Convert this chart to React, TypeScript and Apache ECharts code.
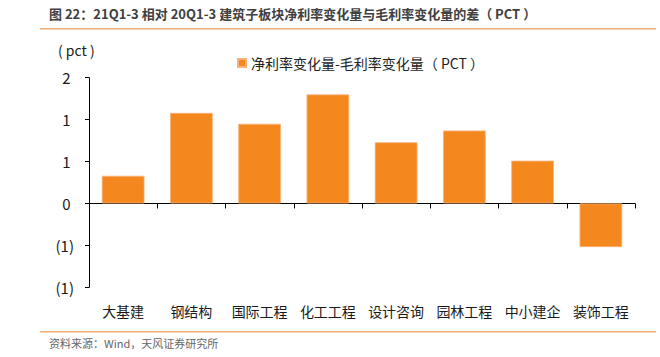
import React, { useEffect, useRef } from "react";
import * as echarts from "echarts";

const categories = ["大基建", "钢结构", "国际工程", "化工工程", "设计咨询", "园林工程", "中小建企", "装饰工程"];
const values = [0.33, 1.08, 0.95, 1.3, 0.73, 0.87, 0.51, -0.52];
const seriesName = "净利率变化量-毛利率变化量（ PCT ）";
const titleText = "图 22：21Q1-3 相对 20Q1-3 建筑子板块净利率变化量与毛利率变化量的差（ PCT ）";
const sourceText = "资料来源：Wind，天风证券研究所";
const unitText = "( pct )";

const FONT = "'Noto Sans CJK SC', 'Noto Sans', sans-serif";

export default function App() {
  const ref = useRef<HTMLDivElement>(null);
  useEffect(() => {
    if (!ref.current) return;
    const chart = echarts.init(ref.current, null, { renderer: "svg" });
    const fmt = (v: number) => {
      const r = Math.round(Math.abs(v) + 1e-9);
      return v < -1e-9 ? `(${r})` : `${r} `;
    };
    chart.setOption({
      animation: false,
      backgroundColor: "#ffffff",
      textStyle: { fontFamily: FONT },
      grid: { left: 89, right: 25, top: 77.7, bottom: 69.7 },
      legend: {
        left: 232,
        top: 51,
        itemWidth: 8,
        itemHeight: 8,
        icon: "rect",
        textStyle: { fontSize: 14, color: "#222", fontFamily: FONT },
        data: [seriesName],
      },
      xAxis: [
        {
          type: "category",
          data: categories,
          position: "bottom",
          axisLine: { show: false, onZero: false },
          axisTick: { show: false },
          axisLabel: { margin: 17, fontSize: 14, color: "#1a1a1a", fontFamily: FONT, interval: 0 },
        },
        {
          type: "category",
          data: categories,
          position: "bottom",
          axisLine: { show: true, onZero: true, lineStyle: { color: "#000", width: 1 } },
          axisTick: { show: true, length: 5, lineStyle: { color: "#000" } },
          axisLabel: { show: false },
        },
      ],
      yAxis: {
        type: "value",
        min: -1,
        max: 1.5,
        interval: 0.5,
        splitLine: { show: false },
        axisLine: { show: true, lineStyle: { color: "#000", width: 1 } },
        axisTick: { show: true, length: 4, lineStyle: { color: "#000" } },
        axisLabel: { margin: 15, fontSize: 15, color: "#1a1a1a", fontFamily: FONT, formatter: fmt },
      },
      series: [
        {
          name: seriesName,
          type: "bar",
          xAxisIndex: 0,
          data: values,
          barWidth: "62.5%",
          itemStyle: { color: "#F5871F", borderColor: "#F9B37A", borderWidth: 0.8 },
        },
      ],
      graphic: [
        {
          type: "text",
          left: 49,
          top: 7,
          style: { text: titleText, fontSize: 13, fontWeight: "bold", fill: "#404040", fontFamily: FONT },
        },
        {
          type: "line",
          shape: { x1: 40, y1: 28.7, x2: 656, y2: 28.7 },
          style: { stroke: "#F4AC72", lineWidth: 1.5 },
        },
        {
          type: "text",
          left: 58,
          top: 43,
          style: { text: unitText, fontSize: 14, fill: "#1a1a1a", fontFamily: FONT },
        },
        {
          type: "line",
          shape: { x1: 40, y1: 331.7, x2: 656, y2: 331.7 },
          style: { stroke: "#F4AC72", lineWidth: 1.5 },
        },
        {
          type: "text",
          left: 49,
          top: 337,
          style: { text: sourceText, fontSize: 11, fill: "#666", fontFamily: FONT },
        },
      ],
    });
    return () => chart.dispose();
  }, []);
  return <div ref={ref} style={{ position: "fixed", left: 0, top: 0, width: 660, height: 357 }} />;
}
